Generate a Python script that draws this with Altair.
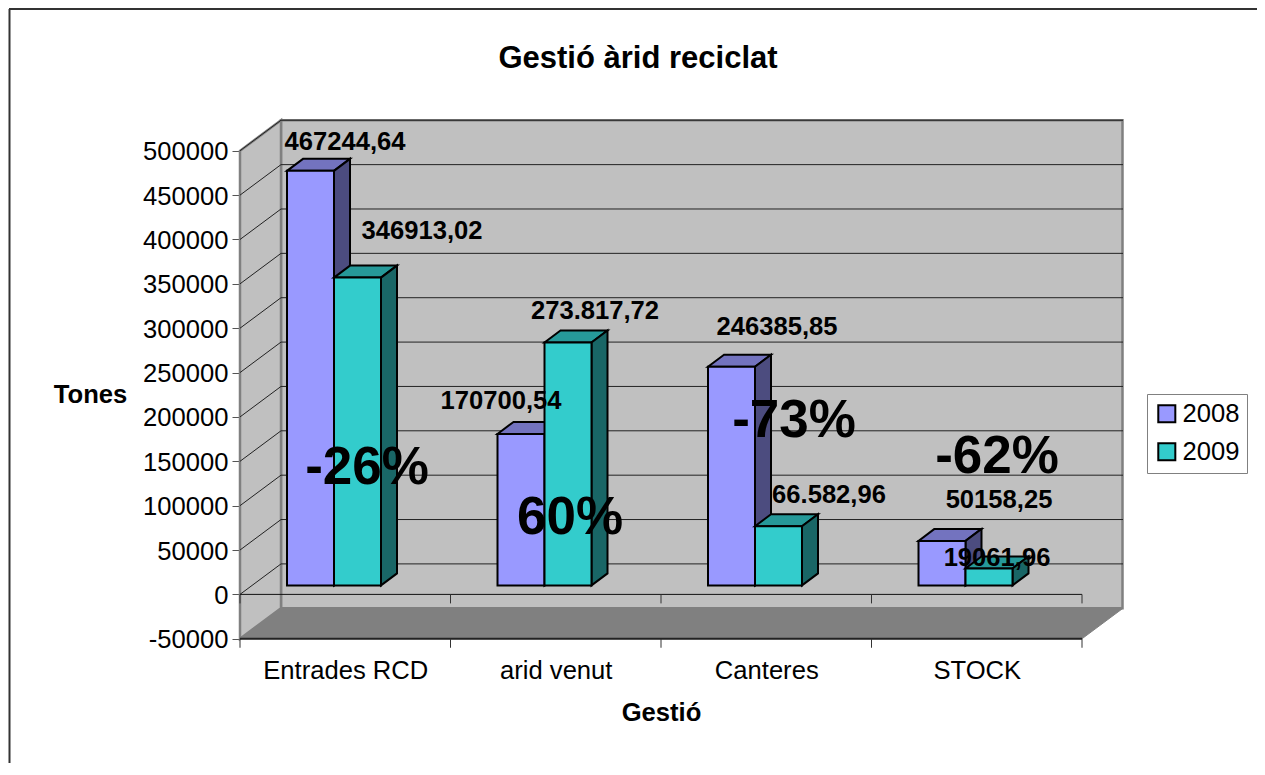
import altair as alt
import pandas as pd

# ---- values
categories = ["Entrades RCD", "arid venut", "Canteres", "STOCK"]
values_2008 = [467244.64, 170700.54, 246385.85, 50158.25]
values_2009 = [346913.02, 273817.72, 66582.96, 19061.96]
labels_2008 = ["467244,64", "170700,54", "246385,85", "50158,25"]
labels_2009 = ["346913,02", "273.817,72", "66.582,96", "19061,96"]
percents = ["-26%", "60%", "-73%", "-62%"]
y_ticks = list(range(-50000, 500001, 50000))
years = ["2008", "2009"]

# ---- geometry: pixel <-> data helpers
LEFT, TOP, W, H = 240, 120, 883, 519
CAT_PX = 210.5
VAL_PER_PX = 550000 / 488
Y0_PX = 594.4
FONT = "Liberation Sans"
SVG_W, SVG_H = 1249, 755

def xu(px):
    return (px - LEFT) / CAT_PX

def yu(py):
    return (Y0_PX - py) * VAL_PER_PX

def dxu(px):
    return px / CAT_PX

def dyu(px):
    return px * VAL_PER_PX

WALL_DX, WALL_DY = dxu(41), dyu(30.5)
xs = alt.Scale(domain=[0, W / CAT_PX], nice=False, zero=False)
ys = alt.Scale(domain=[yu(TOP + H), yu(TOP)], nice=False, zero=False)

axis_x = alt.Axis(
    values=[0.5, 1.5, 2.5, 3.5], title="Gestió", domain=False, ticks=False, grid=False,
    labelExpr="[" + ",".join(f"'{c}'" for c in categories) + "][floor(datum.value)]",
    labelFontSize=25.6, labelColor="black", labelFont=FONT, labelPadding=19, labelAngle=0,
    labelFlush=False, labelOverlap=False,
    titleFontSize=25.6, titleFont=FONT, titleFontWeight="bold", titleColor="black",
    titleX=421, titleY=73, titleBaseline="middle", titleAlign="center", titleAnchor="middle",
)
axis_y = alt.Axis(
    values=y_ticks, title="Tones", domain=False, grid=False,
    labelExpr="'' + datum.value",
    tickSize=8, tickColor="#555555", tickWidth=1,
    labelFontSize=25.6, labelColor="black", labelFont=FONT, labelPadding=4, labelOverlap=False,
    labelOffset=1,
    titleFontSize=25.6, titleFont=FONT, titleFontWeight="bold", titleColor="black",
    titleAngle=0, titleX=-150, titleY=274, titleBaseline="middle", titleAlign="center",
)

def X(f="x"):
    return alt.X(f"{f}:Q", scale=xs, axis=axis_x)

def Y(f="y"):
    return alt.Y(f"{f}:Q", scale=ys, axis=axis_y)

X2 = lambda f="x2": alt.X2(f)
Y2 = lambda f="y2": alt.Y2(f)

layers = []

# chart frame
layers.append(alt.Chart(pd.DataFrame({"a": [0]})).mark_rule(color="#333333", strokeWidth=2).encode(
    x=alt.value(-230.5), y=alt.value(-111), y2=alt.value(SVG_H - 112)))
layers.append(alt.Chart(pd.DataFrame({"a": [0]})).mark_rule(color="#333333", strokeWidth=2).encode(
    x=alt.value(-231), x2=alt.value(SVG_W - 232), y=alt.value(-111)))

# back wall
wall = pd.DataFrame({"x": [WALL_DX], "x2": [dxu(W - 0.5)], "y": [-50000 + WALL_DY], "y2": [500000 + WALL_DY]})
layers.append(alt.Chart(wall).mark_rect(fill="#C0C0C0", stroke="#808080", strokeWidth=2.5).encode(
    x=X(), x2=X2(), y=Y(), y2=Y2()))

# left wall
lw = pd.DataFrame({"x": [0, WALL_DX], "y": [-50000, -50000 + WALL_DY], "y2": [500000, 500000 + WALL_DY]})
layers.append(alt.Chart(lw).mark_area(fill="#C0C0C0", stroke="#808080", strokeWidth=2.5).encode(
    x=X(), y=Y(), y2=Y2()))

# floor
fl = pd.DataFrame({"y": [-50000, -50000 + WALL_DY], "x": [0, WALL_DX], "x2": [4, 4 + WALL_DX]})
layers.append(alt.Chart(fl).mark_area(orient="horizontal", fill="#808080", stroke="#808080", strokeWidth=1).encode(
    y=Y(), x=X(), x2=X2()))

# grid on the back wall
grid_vals = [v for v in y_ticks if v >= 0]
grid = pd.DataFrame({"x": [WALL_DX] * len(grid_vals), "x2": [dxu(W)] * len(grid_vals),
                     "y": [v + WALL_DY for v in grid_vals]})
layers.append(alt.Chart(grid).mark_rule(color="#222222", strokeWidth=1).encode(x=X(), x2=X2(), y=Y()))

# grid diagonals on the left wall
diag_rows = []
for v in grid_vals:
    diag_rows += [{"v": v, "x": 0, "y": v}, {"v": v, "x": WALL_DX, "y": v + WALL_DY}]
layers.append(alt.Chart(pd.DataFrame(diag_rows)).mark_line(color="#222222", strokeWidth=1).encode(
    x=X(), y=Y(), detail="v:N"))

# front edges: zero line and floor edge
edge = pd.DataFrame({"x": [0, 0], "x2": [4, 4], "y": [0, -50000], "w": ["a", "b"]})
layers.append(alt.Chart(edge[edge.w == "a"]).mark_rule(color="#111111", strokeWidth=1).encode(x=X(), x2=X2(), y=Y()))
layers.append(alt.Chart(edge[edge.w == "b"]).mark_rule(color="#222222", strokeWidth=2).encode(x=X(), x2=X2(), y=Y()))

# category ticks on both
ticks = pd.DataFrame([
    {"x": i, "y": base, "y2": base - dyu(9)} for i in range(5) for base in (0, -50000)
])
layers.append(alt.Chart(ticks).mark_rule(color="#333333", strokeWidth=1).encode(x=X(), y=Y(), y2=Y2()))

# 3D bars
BAR_W = dxu(47)
BAR_START = xu(287)
BAR_Y = dyu(9)          # lift of the bar's front plane above the zero plane
DEPTH_X, DEPTH_Y = dxu(16), dyu(12)
colors = {"2008": ("#9999FF", "#7373BF", "#4C4C7F"), "2009": ("#33CCCC", "#269999", "#196666")}
color_scale = alt.Scale(domain=years, range=[colors["2008"][0], colors["2009"][0]])
legend = alt.Legend(
    title=None, orient="none", legendX=1147 - LEFT, legendY=394 - TOP,
    fillColor="white", strokeColor="#808080", padding=7,
    symbolType="square", symbolSize=290, symbolStrokeColor="black", symbolStrokeWidth=2,
    symbolOpacity=1, labelFontSize=25.6, labelFont=FONT, labelColor="black",
    labelOffset=3, rowPadding=11,
)

for s, (year, vals) in enumerate(zip(years, (values_2008, values_2009))):
    front, top_c, side_c = colors[year]
    fr, tp, sd = [], [], []
    for c, v in enumerate(vals):
        xl = c + BAR_START + s * BAR_W
        xr = xl + BAR_W
        fr.append({"year": year, "x": xl, "x2": xr, "y": BAR_Y, "y2": v + BAR_Y})
        tp += [{"id": c, "y": v + BAR_Y, "x": xl, "x2": xr},
               {"id": c, "y": v + BAR_Y + DEPTH_Y, "x": xl + DEPTH_X, "x2": xr + DEPTH_X}]
        sd += [{"id": c, "x": xr, "y": BAR_Y, "y2": v + BAR_Y},
               {"id": c, "x": xr + DEPTH_X, "y": BAR_Y + DEPTH_Y, "y2": v + BAR_Y + DEPTH_Y}]
    layers.append(alt.Chart(pd.DataFrame(tp)).mark_area(
        orient="horizontal", fill=top_c, stroke="black", strokeWidth=2).encode(
        y=Y(), x=X(), x2=X2(), detail="id:N"))
    layers.append(alt.Chart(pd.DataFrame(sd)).mark_area(
        fill=side_c, stroke="black", strokeWidth=2).encode(
        x=X(), y=Y(), y2=Y2(), detail="id:N"))
    layers.append(alt.Chart(pd.DataFrame(fr)).mark_rect(stroke="black", strokeWidth=2).encode(
        x=X(), x2=X2(), y=Y(), y2=Y2(),
        color=alt.Color("year:N", scale=color_scale, legend=legend)))

# value labels (hand-placed in the original)
val_pos = [(345, 142), (501, 401), (777, 327), (999, 500)]
val_pos9 = [(422, 231), (595, 311), (829, 495), (997, 558)]
rows = []
for t, (px, py) in zip(labels_2008 + labels_2009, val_pos + val_pos9):
    rows.append({"t": t, "x": xu(px), "y": yu(py)})
layers.append(alt.Chart(pd.DataFrame(rows)).mark_text(
    font=FONT, fontSize=25.6, fontWeight="bold", color="black", align="center", baseline="middle"
).encode(x=X(), y=Y(), text="t:N"))

pct_pos = [(367, 468), (570, 518), (794, 421), (997, 457)]
rows = [{"t": t, "x": xu(px), "y": yu(py)} for t, (px, py) in zip(percents, pct_pos)]
layers.append(alt.Chart(pd.DataFrame(rows)).mark_text(
    font=FONT, fontSize=53, fontWeight="bold", color="black", align="center", baseline="middle"
).encode(x=X(), y=Y(), text="t:N"))

# chart title
layers.append(alt.Chart(pd.DataFrame({"t": ["Gestió àrid reciclat"], "x": [xu(638)], "y": [yu(59)]})).mark_text(
    font=FONT, fontSize=31, fontWeight="bold", color="black", align="center", baseline="middle"
).encode(x=X(), y=Y(), text="t:N"))

chart = alt.layer(*layers).properties(
    width=W, height=H,
    padding={"left": LEFT - 8, "top": TOP - 8, "right": SVG_W - (LEFT - 8) - W, "bottom": SVG_H - (TOP - 8) - H},
    autosize=alt.AutoSizeParams(type="none"),
    background="white",
).configure_view(stroke=None)

chart.save("out.html", embed_options={"renderer": "svg", "actions": False})
